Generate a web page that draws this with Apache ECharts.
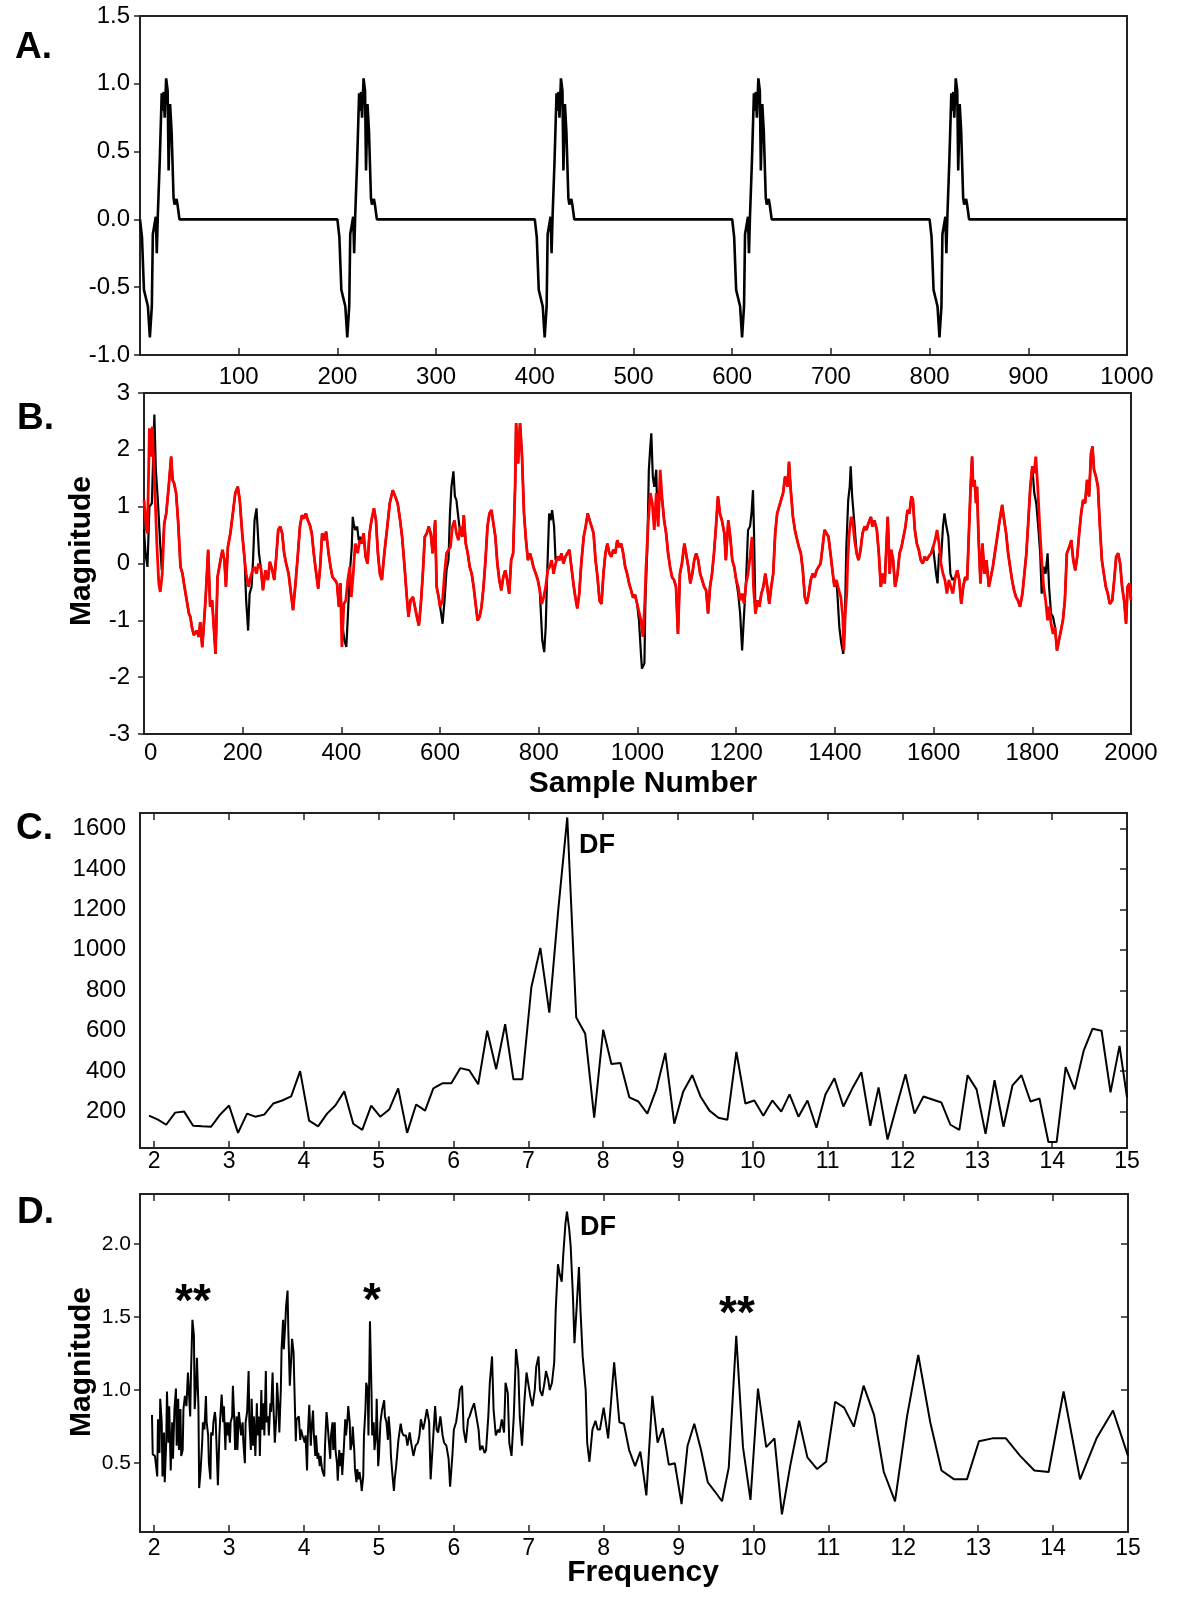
<!DOCTYPE html>
<html>
<head>
<meta charset="utf-8">
<script src="https://cdn.jsdelivr.net/npm/echarts@6/dist/echarts.min.js"></script>
<style>
  html, body { margin: 0; padding: 0; background: #fff; }
  #chart { width: 1200px; height: 1600px; }
</style>
</head>
<body>
<div id="chart"></div>
<script>
// --- panel A: simulated electrogram, one beat shape repeated at each onset
const beatOnsets = [0, 200, 400, 600, 800];
const beatShape = [
  [0, 0], [2, -0.13], [4, -0.52], [6, -0.53], [8, -0.64], [10, -0.87], [12, -0.64], [13, -0.11],
  [15, -0.1], [16, 0.02], [17, -0.25], [18, 0.02], [19, 0.02], [20, 0.43], [22, 0.93], [23, 0.8],
  [24, 0.94], [25, 0.75], [26.5, 1.04], [28, 0.95], [29, 0.36], [30.5, 0.85], [32, 0.65], [34, 0.16],
  [35, 0.11], [37, 0.15], [38, 0.11], [40, 0]
];
const traceEnd = [1000, 0];

// --- panel B: red trace and the places where the black trace departs from it
const bRed = [
  [0,1.12],[5,0.59],[7,0.53],[11,2.38],[14,1.88],[17,2.41],[20,1.7],[23,1.06],[26,0.35],[30,-0.35],[33,-0.5],[37,-0.18],
  [41,0.7],[45,0.88],[50,1.35],[55,1.88],[58,1.47],[61,1.41],[65,1.24],[69,0.76],[74,-0.06],[78,-0.18],[82,-0.41],[86,-0.44],
  [91,-0.88],[94,-0.94],[97,-1.12],[101,-1.26],[104,-1.24],[107,-1.18],[111,-1.29],[114,-1.03],[118,-1.47],[121,-1.12],
  [125,-0.59],[130,0.24],[134,-0.76],[138,-0.65],[145,-1.59],[149,-0.24],[155,0.06],[159,0.24],[163,0.06],[166,-0.41],
  [170,0.29],[175,0.53],[180,0.88],[185,1.24],[190,1.35],[194,1.12],[199,0.53],[204,0.06],[207,-0.18],[212,-0.41],
  [216,-0.24],[220,-0.12],[224,-0.06],[228,-0.18],[232,0],[237,-0.09],[241,-0.47],[246,-0.12],[251,-0.29],[255,0.03],
  [260,-0.12],[264,-0.29],[268,0.12],[272,0.59],[276,0.65],[280,0.53],[284,0.18],[288,0],[293,-0.18],[297,-0.47],
  [302,-0.82],[307,-0.35],[312,0.18],[316,0.65],[320,0.85],[324,0.79],[328,0.88],[332,0.76],[336,0.68],[340,0.53],
  [344,0.18],[349,-0.18],[353,-0.44],[357,-0.06],[361,0.53],[365,0.41],[369,0.56],[374,0.18],[378,-0.06],[382,-0.24],
  [387,-0.29],[391,-0.35],[395,-0.76],[398,-0.35],[401,-1.47],[405,-0.71],[409,-0.65],[413,-0.29],[417,-0.06],[420,-0.59],
  [424,-0.18],[428,0.35],[433,0.18],[437,0.41],[441,0.35],[445,0.53],[449,0.12],[453,0],[457,0.53],[461,0.76],[466,0.97],
  [470,0.76],[474,0.18],[478,-0.18],[482,-0.29],[487,0.18],[493,0.65],[498,1.06],
  [504,1.29],[509,1.18],[514,1.06],[519,0.76],[523,0.47],[528,-0.06],[532,-0.53],[536,-0.94],[540,-0.65],[545,-0.59],
  [549,-0.76],[553,-0.94],[557,-1.09],[561,-0.71],[565,-0.18],[569,0.47],[573,0.53],[577,0.65],[581,0.53],[585,0.18],
  [590,0.76],[593,-0.41],[597,-0.59],[600,-0.76],[605,-0.65],[609,-0.18],[613,0.18],[617,0.24],[621,0.29],[625,0.65],
  [629,0.76],[633,0.53],[637,0.41],[641,0.65],[645,0.47],[648,0.85],[652,0.35],[656,0.18],[660,-0.06],[664,-0.18],
  [668,-0.41],[672,-0.71],[676,-1.0],[680,-0.94],[684,-0.76],[688,-0.41],[692,0.06],[696,0.65],[700,0.88],[704,0.94],
  [708,0.97],[712,0.47],[716,0],[720,-0.29],[724,-0.47],[728,-0.24],[732,-0.12],[736,-0.29],[740,-0.53],[744,0.06],
  [748,0.18],[752,1.35],[754,2.47],[758,1.76],[762,2.47],[766,1.88],[770,0.88],[774,0.41],[778,0.06],[782,0.18],
  [786,0.06],[789,-0.06],[794,-0.18],[798,-0.29],[802,-0.47],[806,-0.71],[810,-0.59],[814,-0.41],[818,-0.12],[822,-0.06],
  [826,0.06],[830,-0.18],[834,0],[838,0.12],[842,0.06],[846,0.18],[850,0],[854,0.12],[858,0.18],[862,0.24],[866,-0.06],
  [871,-0.41],[874,-0.59],[878,-0.79],[882,-0.53],[886,0],[891,0.47],[895,0.65],[899,0.88],[903,0.76],[907,0.65],
  [911,0.53],[915,0.06],[919,-0.24],[923,-0.65],[927,-0.71],[931,-0.18],[935,0.18],[939,0.35],[943,0.18],[947,0.12],
  [951,0.24],[955,0.18],[959,0.41],[963,0.29],[967,0.35],[971,0.18],[975,-0.06],[979,-0.18],[983,-0.35],[987,-0.47],
  [991,-0.6],[995,-0.55],[999,-0.7],[1003,-0.85],[1007,-1.0],[1011,-1.29],[1015,-0.65],[1017,-0.12],[1022,0.76],
  [1026,1.24],[1030,1.06],[1034,0.59],[1038,1.24],[1042,0.65],[1046,1.65],[1050,1.12],[1054,0.76],[1058,0.53],[1062,0.18],
  [1066,-0.06],[1070,-0.24],[1074,-0.29],[1078,-0.41],[1082,-1.24],[1086,-0.18],[1090,0],[1095,0.35],[1098,0.38],
  [1103,-0.06],[1107,-0.35],[1111,-0.18],[1115,0.06],[1119,0.18],[1123,0.06],[1127,-0.18],[1131,-0.29],[1135,-0.41],
  [1139,-0.47],[1143,-0.88],[1147,-0.41],[1151,-0.18],[1155,0.18],[1159,0.65],[1163,1.18],[1167,0.88],[1171,0.76],
  [1176,0.53],[1179,0.06],[1184,0.76],[1188,0.47],[1192,0.06],[1196,-0.06],[1200,-0.29],[1204,-0.41],[1208,-0.65],
  [1212,-0.53],[1216,-0.71],[1220,-0.35],[1224,-0.18],[1228,0.12],[1232,0.47],[1235,-0.41],[1239,-0.88],[1243,-0.65],
  [1247,-0.76],[1251,-0.53],[1255,-0.41],[1259,-0.18],[1263,-0.41],[1267,-0.71],[1271,-0.41],[1275,-0.18],[1279,0.53],
  [1283,0.88],[1287,1.0],[1291,1.12],[1295,1.24],[1299,1.53],[1304,1.35],[1307,1.79],[1310,1.35],[1315,0.82],[1319,0.59],
  [1322,0.47],[1327,0.29],[1331,0.18],[1335,-0.12],[1339,-0.59],[1343,-0.71],[1347,-0.53],[1351,-0.29],[1355,-0.18],
  [1359,-0.24],[1363,-0.12],[1367,-0.06],[1371,0],[1375,0.29],[1379,0.59],[1383,0.53],[1387,0.47],[1391,0.18],
  [1395,-0.12],[1399,-0.41],[1403,-0.29],[1408,-0.47],[1412,-0.59],[1416,-0.94],[1418,-1.53],[1421,-0.88],[1424,-0.53],
  [1426,0.06],[1429,0.53],[1433,0.82],[1436,0.76],[1440,0.41],[1444,0.18],[1448,0.06],[1452,0.24],[1456,0.53],
  [1460,0.65],[1464,0.59],[1468,0.71],[1473,0.82],[1476,0.65],[1480,0.76],[1485,0.59],
  [1489,0.18],[1493,-0.41],[1497,-0.18],[1501,-0.35],[1507,0.82],[1511,-0.18],[1514,0.24],[1518,0.06],[1522,-0.41],
  [1527,-0.18],[1531,0.18],[1535,0.29],[1539,0.47],[1543,0.65],[1547,0.94],[1551,0.88],[1555,1.18],[1558,1.12],
  [1562,0.59],[1566,0.35],[1570,0.24],[1574,0.06],[1578,0],[1582,0.12],[1586,0.06],[1590,0.12],[1595,0.18],[1599,0.29],
  [1603,0.41],[1607,0.59],[1611,0.35],[1615,0],[1619,-0.18],[1623,-0.29],[1627,-0.53],[1631,-0.29],[1635,-0.41],
  [1639,-0.53],[1644,-0.24],[1648,-0.12],[1652,-0.29],[1656,-0.71],[1660,-0.41],[1664,-0.24],[1668,-0.29],[1672,0.65],
  [1675,1.35],[1678,1.88],[1680,1.35],[1683,1.47],[1686,1.06],[1688,1.35],[1691,0.47],[1695,-0.35],[1699,0.35],
  [1703,-0.18],[1707,0.06],[1712,-0.41],[1716,-0.24],[1720,-0.06],[1724,0.18],[1728,0.41],[1732,0.65],[1736,0.88],
  [1739,1.03],[1743,0.76],[1747,0.53],[1751,0.18],[1755,-0.06],[1759,-0.29],[1763,-0.47],[1767,-0.59],[1771,-0.65],
  [1775,-0.76],[1780,-0.53],[1784,-0.18],[1788,0.18],[1792,0.76],[1796,1.35],[1800,1.71],[1804,1.59],[1807,1.88],
  [1811,1.35],[1815,0.65],[1819,0.06],[1823,-0.41],[1827,-0.65],[1831,-1.0],[1834,-0.76],[1838,-1.06],[1842,-1.24],
  [1846,-1.12],[1850,-1.53],[1854,-1.35],[1858,-1.18],[1862,-1.0],[1866,-0.65],[1870,0.18],[1875,0.29],[1879,0.41],
  [1883,0.06],[1887,-0.12],[1891,0.12],[1895,0.53],[1899,0.88],[1903,1.12],[1907,1.06],[1911,1.47],[1915,1.18],
  [1919,1.94],[1922,2.06],[1925,1.65],[1929,1.53],[1933,1.35],[1937,0.65],[1941,0.06],[1945,-0.18],[1949,-0.41],
  [1953,-0.53],[1957,-0.71],[1962,-0.65],[1966,-0.29],[1970,0.12],[1974,0.18],[1978,0],[1982,-0.41],[1986,-0.65],
  [1990,-1.06],[1993,-0.41],[1997,-0.35],[2000,-0.65]
];
const bBlackBeats = [
  [[0,0.6],[3,0.18],[7,-0.06],[11,1.0],[16,1.06],[21,2.62],[24,1.65],[28,1.12],[32,0.47],[36,-0.12],[41,0.7]],
  [[204,0.06],[207,-0.65],[211,-1.18],[214,-0.53],[218,-0.41],[221,0.06],[224,0.76],[228,0.97],[230,0.65],[233,0.18],[237,-0.09]],
  [[398,-0.35],[401,-1.0],[406,-1.35],[410,-1.47],[413,-0.94],[417,-0.18],[421,0.29],[423,0.82],[425,0.7],[428,0.59],[432,0.65],[435,0.41],[438,0.47],[441,0.35]],
  [[600,-0.76],[605,-1.06],[609,-0.65],[613,-0.12],[617,0.06],[620,0.88],[623,1.35],[627,1.62],[630,1.18],[633,1.12],[636,0.88],[640,0.59],[645,0.47]],
  [[802,-0.47],[805,-1.0],[807,-1.35],[811,-1.56],[814,-1.12],[817,-0.18],[821,0.88],[824,0.76],[827,0.94],[831,0.65],[834,0.06],[838,0.12]],
  [[999,-0.7],[1003,-1.0],[1007,-1.59],[1009,-1.85],[1014,-1.76],[1016,-0.65],[1020,0.29],[1023,1.65],[1026,2.06],[1028,2.29],[1031,1.53],[1034,1.35],[1038,1.65],[1040,0.88],[1045,1.18],[1050,1.12]],
  [[1200,-0.29],[1204,-0.53],[1208,-0.88],[1212,-1.53],[1216,-0.88],[1220,-0.29],[1224,0.59],[1228,0.65],[1231,0.88],[1234,1.29],[1236,0.59],[1239,-0.88]],
  [[1403,-0.29],[1405,-0.53],[1409,-1.12],[1413,-1.41],[1417,-1.59],[1420,-1.12],[1423,0.24],[1427,1.12],[1430,1.35],[1432,1.71],[1435,1.18],[1439,0.76],[1444,0.18]],
  [[1599,0.29],[1603,0.29],[1605,-0.18],[1608,-0.35],[1611,0.18],[1615,0.06],[1619,0.65],[1622,0.88],[1626,0.65],[1630,0.47],[1634,-0.18],[1638,-0.29],[1644,-0.24]],
  [[1800,1.71],[1804,1.24],[1808,1.06],[1812,0.65],[1816,0.18],[1819,-0.53],[1823,-0.06],[1827,-0.18],[1831,0.18],[1834,-0.41],[1838,-0.88],[1842,-0.94],[1846,-1.12]]
];

// --- panel C: spectrum of the simulated signal
const cFreq = [
  1.93, 2.05, 2.16, 2.28, 2.40, 2.52, 2.64, 2.76, 2.88, 3.00, 3.12, 3.24, 3.35, 3.47, 3.59, 3.71, 3.83, 3.95, 4.07, 4.19,
  4.31, 4.42, 4.54, 4.66, 4.78, 4.90, 5.02, 5.14, 5.26, 5.38, 5.50, 5.62, 5.73, 5.85, 5.97, 6.09, 6.21, 6.33, 6.45, 6.57,
  6.69, 6.80, 6.92, 7.04, 7.16, 7.28, 7.40, 7.52, 7.64, 7.76, 7.88, 8.00, 8.11, 8.23, 8.35, 8.47, 8.59, 8.71, 8.83, 8.95,
  9.07, 9.19, 9.30, 9.42, 9.54, 9.66, 9.78, 9.90, 10.02, 10.14, 10.26, 10.38, 10.49, 10.61, 10.73, 10.85, 10.97, 11.09,
  11.21, 11.33, 11.45, 11.57, 11.68, 11.80, 11.92, 12.04, 12.16, 12.28, 12.40, 12.52, 12.64, 12.76, 12.87, 12.99, 13.11,
  13.23, 13.35, 13.47, 13.59, 13.71, 13.83, 13.95, 14.06, 14.18, 14.30, 14.42, 14.54, 14.66, 14.78, 14.90, 15.00
];
const cMag = [
  180, 160, 135, 195, 200, 130, 127, 125, 185, 230, 95, 190, 175, 185, 240, 255, 275, 400, 155, 127,
  190, 230, 300, 140, 110, 230, 175, 210, 315, 95, 235, 205, 315, 340, 340, 415, 405, 335, 600, 410,
  632, 360, 360, 815, 1010, 690, 1200, 1655, 665, 585, 170, 605, 435, 440, 270, 250, 190, 310, 490, 140,
  300, 380, 275, 205, 170, 160, 495, 240, 255, 180, 255, 200, 285, 175, 255, 120, 285, 365,
  225, 315, 395, 130, 320, 62, 225, 385, 190, 275, 260, 245, 135, 110, 380, 310, 90,
  355, 125, 330, 380, 250, 265, 50, 50, 420, 310, 500, 610, 600, 295, 525, 270
];
const cTicks = [200, 400, 600, 800, 1000, 1200, 1400, 1600];

// --- panel D: spectrum of the recorded signal, [frequency, magnitude]
const dSpectrum = [
  [1.97,0.83],[1.98,0.56],[2.01,0.55],[2.02,0.50],[2.04,0.41],[2.05,0.80],[2.07,0.57],[2.08,0.94],[2.10,0.78],[2.11,0.41],
  [2.13,0.71],[2.14,0.37],[2.16,0.64],[2.17,0.99],[2.19,0.64],[2.20,0.89],[2.22,0.45],[2.24,0.78],[2.25,0.53],[2.27,0.87],
  [2.29,1.01],[2.30,0.62],[2.32,0.94],[2.33,0.59],[2.35,0.87],[2.36,0.55],[2.38,0.59],[2.39,0.87],[2.41,0.96],[2.43,0.89],
  [2.45,1.12],[2.46,1.13],[2.48,0.82],[2.49,1.10],[2.51,1.48],[2.53,1.37],[2.54,0.87],[2.56,1.05],[2.57,1.22],[2.59,0.89],
  [2.60,0.33],[2.62,0.46],[2.64,0.64],[2.65,0.78],[2.67,0.73],[2.69,0.96],[2.70,0.78],[2.72,0.69],[2.73,0.50],[2.75,0.39],
  [2.76,0.71],[2.78,0.69],[2.79,0.78],[2.81,0.85],[2.82,0.80],[2.84,0.81],[2.85,0.35],[2.87,0.69],[2.88,0.80],[2.90,0.97],
  [2.92,0.78],[2.93,0.89],[2.95,0.59],[2.96,0.78],[2.98,0.69],[2.99,0.78],[3.01,0.64],[3.02,0.78],[3.04,0.82],[3.05,1.03],
  [3.07,0.78],[3.08,0.59],[3.10,0.82],[3.11,0.59],[3.13,0.85],[3.14,0.85],[3.16,0.69],[3.18,0.78],[3.19,0.64],[3.21,0.50],
  [3.22,0.78],[3.24,0.85],[3.26,1.13],[3.27,0.78],[3.29,0.59],[3.30,0.94],[3.32,0.62],[3.33,0.82],[3.35,0.55],[3.37,0.91],
  [3.38,0.69],[3.40,0.82],[3.41,0.55],[3.43,1.00],[3.44,0.73],[3.46,0.91],[3.47,0.69],[3.49,1.13],[3.50,0.78],[3.52,0.82],
  [3.53,0.69],[3.55,0.91],[3.56,0.85],[3.58,1.12],[3.59,0.91],[3.61,0.64],[3.63,0.82],[3.64,1.05],[3.66,0.87],[3.67,0.71],
  [3.69,1.00],[3.70,1.28],[3.72,1.48],[3.73,1.28],[3.75,1.46],[3.76,1.57],[3.78,1.68],[3.79,1.41],[3.81,1.03],[3.83,1.23],
  [3.84,1.35],[3.86,1.26],[3.87,1.05],[3.89,0.65],[3.90,0.80],[3.92,0.81],[3.93,0.82],[3.95,0.66],[3.96,0.73],[3.98,0.69],
  [3.99,0.69],[4.01,0.64],[4.02,0.69],[4.04,0.45],[4.05,0.69],[4.07,0.90],[4.09,0.62],[4.10,0.73],[4.12,0.86],[4.13,0.71],
  [4.15,0.55],[4.16,0.69],[4.18,0.53],[4.19,0.57],[4.21,0.48],[4.22,0.55],[4.24,0.46],[4.25,0.44],[4.27,0.41],[4.28,0.62],
  [4.30,0.85],[4.31,0.80],[4.33,0.66],[4.35,0.53],[4.36,0.69],[4.38,0.78],[4.39,0.59],[4.41,0.78],[4.42,0.59],[4.44,0.50],
  [4.45,0.38],[4.47,0.59],[4.48,0.48],[4.50,0.57],[4.51,0.42],[4.53,0.59],[4.55,0.80],[4.56,0.69],[4.58,0.80],[4.59,0.89],
  [4.61,0.78],[4.62,0.59],[4.64,0.64],[4.65,0.75],[4.67,0.59],[4.68,0.46],[4.70,0.37],[4.71,0.46],[4.73,0.39],[4.74,0.44],
  [4.76,0.37],[4.77,0.31],[4.79,0.41],[4.80,0.69],[4.82,0.87],[4.83,1.05],[4.85,1.00],[4.86,0.69],[4.88,1.47],[4.90,1.00],
  [4.91,0.69],[4.93,0.78],[4.94,0.59],[4.96,0.69],[4.97,0.94],[4.99,0.48],[5.00,0.55],[5.02,0.78],[5.04,0.86],[5.05,0.87],
  [5.07,0.93],[5.08,0.82],[5.10,0.78],[5.12,0.66],[5.13,0.82],[5.15,0.69],[5.16,0.55],[5.18,0.42],[5.20,0.31],[5.21,0.39],
  [5.23,0.48],[5.26,0.66],[5.29,0.77],[5.31,0.71],[5.33,0.69],[5.36,0.69],[5.38,0.62],[5.41,0.71],[5.43,0.64],[5.46,0.55],
  [5.49,0.62],[5.52,0.64],[5.54,0.69],[5.56,0.80],[5.59,0.73],[5.61,0.78],[5.64,0.87],[5.67,0.78],[5.69,0.39],[5.72,0.64],
  [5.75,0.89],[5.77,0.73],[5.79,0.71],[5.82,0.82],[5.85,0.69],[5.87,0.64],[5.90,0.62],[5.93,0.53],[5.95,0.34],[5.98,0.55],
  [6.00,0.73],[6.03,0.78],[6.06,0.89],[6.08,1.00],[6.11,1.03],[6.13,0.73],[6.16,0.64],[6.19,0.80],[6.21,0.82],[6.24,0.87],
  [6.27,0.91],[6.30,0.82],[6.33,0.73],[6.35,0.59],[6.38,0.62],[6.41,0.57],[6.43,0.59],[6.46,0.82],[6.48,1.05],[6.51,1.23],
  [6.53,0.87],[6.56,0.69],[6.59,0.73],[6.61,0.71],[6.64,0.80],[6.67,0.71],[6.69,1.05],[6.72,0.98],[6.74,0.64],[6.77,0.55],
  [6.80,0.82],[6.83,1.28],[6.86,1.14],[6.88,0.82],[6.91,0.62],[6.94,0.91],[6.97,1.12],[6.99,1.11],[7.02,0.96],[7.05,0.89],
  [7.08,1.00],[7.10,1.16],[7.13,1.23],[7.15,1.00],[7.18,0.96],[7.21,1.05],[7.23,1.13],[7.26,1.07],[7.28,1.00],[7.31,1.05],
  [7.34,1.19],[7.36,1.55],[7.39,1.86],[7.41,1.80],[7.44,1.74],[7.46,1.92],[7.49,2.14],[7.51,2.22],[7.54,2.10],[7.56,1.98],
  [7.59,1.64],[7.61,1.32],[7.64,1.57],[7.67,1.84],[7.69,1.55],[7.72,1.23],[7.76,1.00],[7.78,0.64],[7.81,0.51],[7.85,0.73],
  [7.89,0.79],[7.92,0.73],[7.95,0.73],[8.00,0.88],[8.06,0.67],[8.14,1.19],[8.21,0.78],[8.27,0.77],[8.34,0.59],[8.42,0.48],
  [8.49,0.58],[8.57,0.28],[8.65,0.96],[8.72,0.64],[8.79,0.74],[8.87,0.49],[8.95,0.50],[9.04,0.22],[9.12,0.62],[9.21,0.77],
  [9.30,0.59],[9.39,0.37],[9.48,0.31],[9.58,0.24],[9.67,0.47],[9.77,1.37],[9.86,0.61],[9.96,0.25],[10.06,1.01],[10.17,0.61],
  [10.28,0.67],[10.38,0.15],[10.49,0.48],[10.61,0.79],[10.72,0.54],[10.85,0.46],[10.97,0.51],[11.09,0.92],[11.21,0.88],
  [11.34,0.75],[11.47,1.03],[11.61,0.83],[11.74,0.44],[11.89,0.24],[12.05,0.82],[12.20,1.24],[12.36,0.78],[12.51,0.45],
  [12.68,0.39],[12.85,0.39],[13.01,0.65],[13.19,0.67],[13.37,0.67],[13.56,0.55],[13.75,0.45],[13.94,0.44],[14.14,0.99],
  [14.36,0.39],[14.58,0.67],[14.80,0.86],[15.00,0.55]
];
const dTicks = [0.5, 1.0, 1.5, 2.0];
const freqTicks = [2, 3, 4, 5, 6, 7, 8, 9, 10, 11, 12, 13, 14, 15];

const FONT = "'Liberation Sans', Arial, sans-serif";
const INK = '#222';

// panel A trace: copy the beat at every onset, flat in between
const ecgData = [];
beatOnsets.forEach((t0) => beatShape.forEach(([dx, v]) => ecgData.push([t0 + dx, v])));
ecgData.push(traceEnd);

// black trace = red trace, except inside the beat windows where it has its own points
const bBlack = bRed
  .filter(([x]) => !bBlackBeats.some((seg) => x >= seg[0][0] && x <= seg[seg.length - 1][0]))
  .concat(...bBlackBeats)
  .sort((a, b) => a[0] - b[0]);

const plain = (v) => String(v);
const tickStyle = (inside, length) => ({
  show: true, inside, length, lineStyle: { color: INK, width: 1.5 },
});
const labelStyle = (size, margin, extra) =>
  Object.assign({ color: '#000', fontSize: size, fontFamily: FONT, margin, formatter: plain }, extra || {});
const noLine = { show: false, onZero: false };
const gridBox = (top, height, left, right) => ({
  top, height, left, right, show: true, borderColor: INK, borderWidth: 2, outerBoundsMode: 'none',
});

const chart = echarts.init(document.getElementById('chart'));

chart.setOption({
  animation: false,
  backgroundColor: '#fff',
  grid: [
    gridBox(16, 339, 140, 73),
    gridBox(393, 341, 144, 69),
    gridBox(813, 335, 140, 73),
    gridBox(1194, 338, 140, 72),
  ],
  xAxis: [
    {
      type: 'value', gridIndex: 0, min: 0, max: 1000, interval: 100,
      axisLine: noLine, splitLine: { show: false },
      axisTick: tickStyle(true, 7),
      axisLabel: labelStyle(24, 10, { formatter: (v) => (v === 0 ? '' : String(v)) }),
    },
    {
      type: 'value', gridIndex: 1, min: 0, max: 2000, interval: 200,
      axisLine: noLine, splitLine: { show: false },
      axisTick: tickStyle(true, 7),
      axisLabel: labelStyle(24, 7, { alignMinLabel: 'left' }),
    },
    {
      type: 'value', gridIndex: 2, min: 1.81, max: 15, position: 'bottom',
      axisLine: noLine, splitLine: { show: false },
      axisTick: Object.assign(tickStyle(true, 7), { customValues: freqTicks }),
      axisLabel: labelStyle(23, 2, { customValues: freqTicks }),
    },
    {
      type: 'value', gridIndex: 2, min: 1.81, max: 15, position: 'top',
      axisLine: noLine, splitLine: { show: false },
      axisTick: Object.assign(tickStyle(true, 7), { customValues: freqTicks }),
      axisLabel: { show: false },
    },
    {
      type: 'value', gridIndex: 3, min: 1.81, max: 15, position: 'bottom',
      axisLine: noLine, splitLine: { show: false },
      axisTick: Object.assign(tickStyle(true, 7), { customValues: freqTicks }),
      axisLabel: labelStyle(23, 5, { customValues: freqTicks }),
    },
    {
      type: 'value', gridIndex: 3, min: 1.81, max: 15, position: 'top',
      axisLine: noLine, splitLine: { show: false },
      axisTick: Object.assign(tickStyle(true, 7), { customValues: freqTicks }),
      axisLabel: { show: false },
    },
  ],
  yAxis: [
    {
      type: 'value', gridIndex: 0, min: -1, max: 1.5, interval: 0.5,
      axisLine: noLine, splitLine: { show: false },
      axisTick: tickStyle(false, 6),
      axisLabel: labelStyle(24, 10, { formatter: (v) => v.toFixed(1) }),
    },
    {
      type: 'value', gridIndex: 1, min: -3, max: 3, interval: 1,
      axisLine: noLine, splitLine: { show: false },
      axisTick: tickStyle(false, 6),
      axisLabel: labelStyle(24, 14),
    },
    {
      type: 'value', gridIndex: 2, min: 20, max: 1677, position: 'left',
      axisLine: noLine, splitLine: { show: false },
      axisTick: { show: false },
      axisLabel: labelStyle(24, 14, { customValues: cTicks }),
    },
    {
      type: 'value', gridIndex: 2, min: 20, max: 1677, position: 'right',
      axisLine: noLine, splitLine: { show: false },
      axisTick: Object.assign(tickStyle(true, 7), { customValues: cTicks }),
      axisLabel: { show: false },
    },
    {
      type: 'value', gridIndex: 3, min: 0.03, max: 2.34, position: 'left',
      axisLine: noLine, splitLine: { show: false },
      axisTick: Object.assign(tickStyle(false, 6), { customValues: dTicks }),
      axisLabel: labelStyle(21, 9, { customValues: dTicks, formatter: (v) => v.toFixed(1) }),
    },
    {
      type: 'value', gridIndex: 3, min: 0.03, max: 2.34, position: 'right',
      axisLine: noLine, splitLine: { show: false },
      axisTick: Object.assign(tickStyle(true, 7), { customValues: dTicks }),
      axisLabel: { show: false },
    },
  ],
  series: [
    {
      type: 'line', xAxisIndex: 0, yAxisIndex: 0, data: ecgData,
      showSymbol: false, lineStyle: { color: '#000', width: 2.6 },
    },
    {
      type: 'line', xAxisIndex: 1, yAxisIndex: 1, data: bBlack,
      showSymbol: false, lineStyle: { color: '#000', width: 2.2 },
    },
    {
      type: 'line', xAxisIndex: 1, yAxisIndex: 1, data: bRed,
      showSymbol: false, lineStyle: { color: '#ff0000', width: 2.8 },
    },
    {
      type: 'line', xAxisIndex: 2, yAxisIndex: 2,
      data: cFreq.map((f, i) => [f, cMag[i]]),
      showSymbol: false, lineStyle: { color: '#000', width: 2 },
    },
    {
      type: 'line', xAxisIndex: 4, yAxisIndex: 4, data: dSpectrum,
      showSymbol: false, lineStyle: { color: '#000', width: 2 },
    },
  ],
  graphic: [
    { type: 'text', x: 15, y: 48, style: { text: 'A.', font: `bold 37px ${FONT}`, fill: '#000', align: 'left', verticalAlign: 'middle' } },
    { type: 'text', x: 17, y: 419, style: { text: 'B.', font: `bold 37px ${FONT}`, fill: '#000', align: 'left', verticalAlign: 'middle' } },
    { type: 'text', x: 16, y: 829, style: { text: 'C.', font: `bold 37px ${FONT}`, fill: '#000', align: 'left', verticalAlign: 'middle' } },
    { type: 'text', x: 17, y: 1213, style: { text: 'D.', font: `bold 37px ${FONT}`, fill: '#000', align: 'left', verticalAlign: 'middle' } },
    { type: 'text', x: 82, y: 551, rotation: Math.PI / 2, style: { text: 'Magnitude', font: `bold 30px ${FONT}`, fill: '#000', align: 'center', verticalAlign: 'middle' } },
    { type: 'text', x: 643, y: 784, style: { text: 'Sample Number', font: `bold 30px ${FONT}`, fill: '#000', align: 'center', verticalAlign: 'middle' } },
    { type: 'text', x: 597, y: 846, style: { text: 'DF', font: `bold 27px ${FONT}`, fill: '#000', align: 'center', verticalAlign: 'middle' } },
    { type: 'text', x: 598, y: 1228, style: { text: 'DF', font: `bold 27px ${FONT}`, fill: '#000', align: 'center', verticalAlign: 'middle' } },
    { type: 'text', x: 193, y: 1303, style: { text: '**', font: `bold 46px ${FONT}`, fill: '#000', align: 'center', verticalAlign: 'middle' } },
    { type: 'text', x: 372, y: 1302, style: { text: '*', font: `bold 46px ${FONT}`, fill: '#000', align: 'center', verticalAlign: 'middle' } },
    { type: 'text', x: 737, y: 1315, style: { text: '**', font: `bold 46px ${FONT}`, fill: '#000', align: 'center', verticalAlign: 'middle' } },
    { type: 'text', x: 82, y: 1362, rotation: Math.PI / 2, style: { text: 'Magnitude', font: `bold 30px ${FONT}`, fill: '#000', align: 'center', verticalAlign: 'middle' } },
    { type: 'text', x: 643, y: 1573, style: { text: 'Frequency', font: `bold 30px ${FONT}`, fill: '#000', align: 'center', verticalAlign: 'middle' } },
  ],
});
</script>
</body>
</html>
